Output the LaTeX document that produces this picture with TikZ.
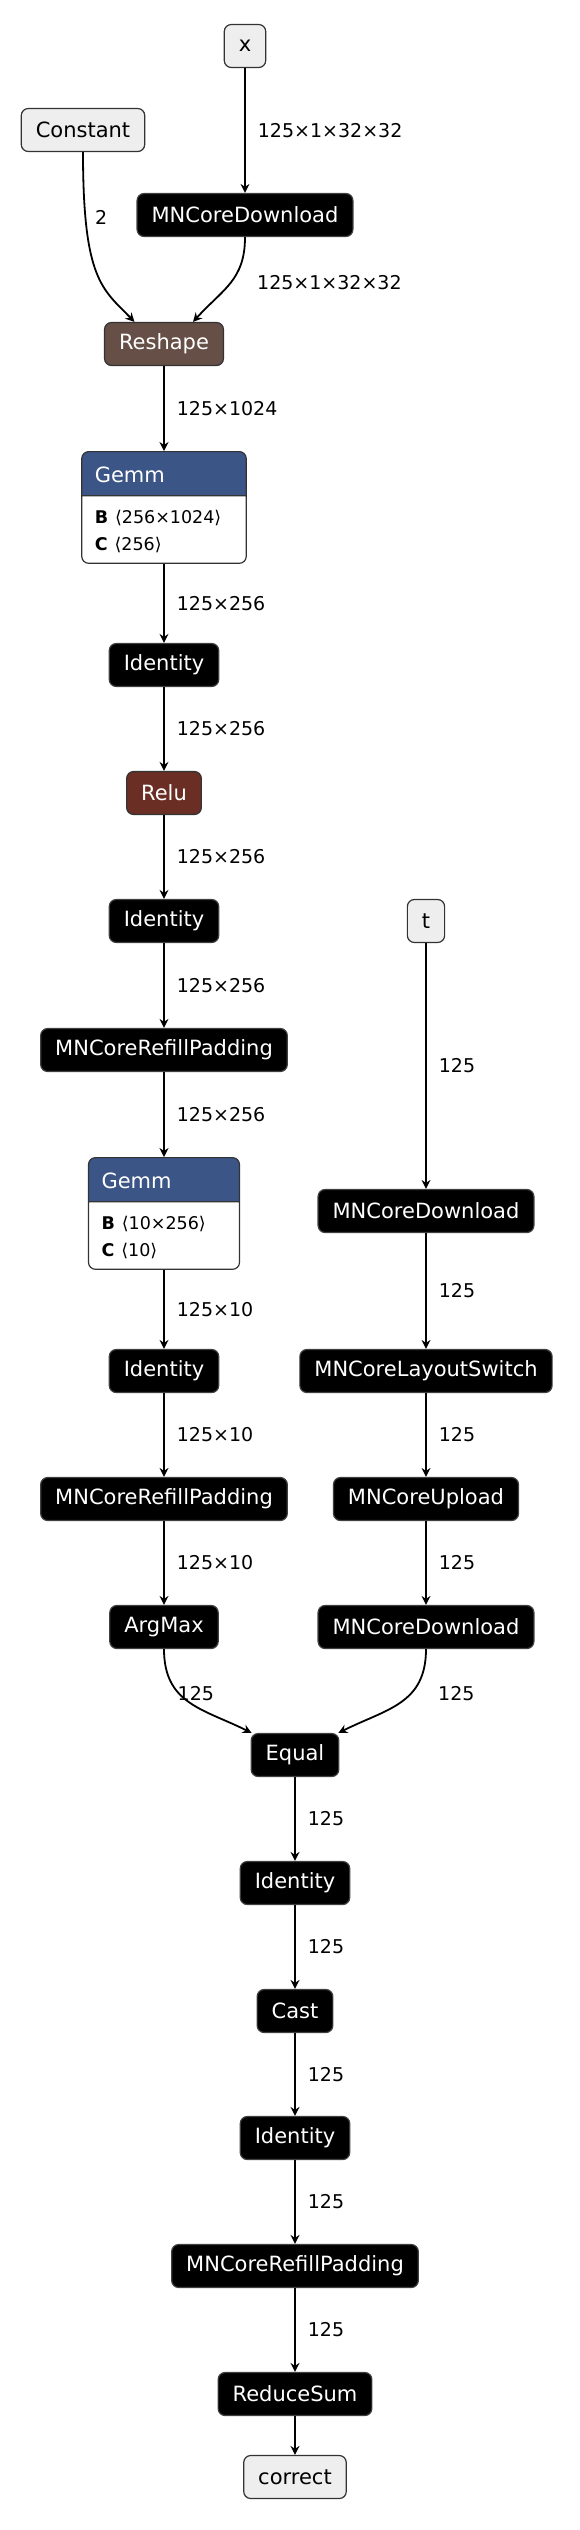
\documentclass[tikz,border=0pt]{standalone}
\usepackage{fontspec}
\setmainfont{DejaVu Sans}
\usetikzlibrary{arrows.meta,shapes.multipart}

\definecolor{layerblue}{RGB}{59,85,135}
\definecolor{actred}{RGB}{107,46,37}
\definecolor{shapebrown}{RGB}{101,79,71}
\definecolor{iogray}{RGB}{238,238,238}
\definecolor{bordergray}{RGB}{51,51,51}

\newcommand{\nodesize}{\fontsize{21}{25}\selectfont}
\newcommand{\edgesize}{\fontsize{19}{23}\selectfont}
\newcommand{\gemmtitle}{\textcolor{white}{\rule[-13pt]{0pt}{43pt}Gemm}}
\newcommand{\gemmattrs}[2]{\fontsize{17.5}{21}\selectfont\vbox{\offinterlineskip
  \hbox{\rule{0pt}{27pt}\textbf{B}\hspace{7pt}⟨#1⟩}
  \hbox{\rule[-12pt]{0pt}{37pt}\textbf{C}\hspace{7pt}⟨#2⟩}}}

\begin{document}
\begin{tikzpicture}[x=1pt, y=-1pt,
    box/.style={draw=bordergray, rectangle, rounded corners=7pt, minimum height=43pt, inner xsep=14.5pt, inner ysep=0pt, line width=1.2pt, font=\nodesize},
    opbox/.style={box, fill=black, draw=black!75, text=white},
    iobox/.style={box, fill=iogray, text=black},
    gemm/.style={rectangle split, rectangle split parts=2, rectangle split part fill={layerblue,white}, rectangle split part align={left}, draw=bordergray, line width=1.2pt, rounded corners=7pt, inner xsep=13pt, inner ysep=0pt, font=\nodesize, anchor=north},
    arrow/.style={-{Stealth[length=9pt,width=9pt,inset=3pt]}, line width=1.8pt},
    lbl/.style={font=\edgesize, anchor=west, inner sep=0pt, xshift=12pt}
  ]
    \useasboundingbox (0,0) rectangle (580,2530);

    % Nodes
    \node[iobox] (x) at (245,46) {x};
    \node[iobox] (const) at (83,130) {Constant};
    \node[opbox] (dl1) at (245,215) {MNCoreDownload};
    \node[box, fill=shapebrown, text=white] (reshape) at (164,344) {Reshape};
    \node[gemm, minimum width=164.5pt] (gemm1) at (164,451) {\gemmtitle\nodepart{two}\gemmattrs{256×1024}{256}};
    \node[opbox] (id1) at (164,665) {Identity};
    \node[box, fill=actred, text=white] (relu) at (164,793) {Relu};
    \node[opbox] (id2) at (164,921) {Identity};
    \node[opbox] (refill1) at (164,1050) {MNCoreRefillPadding};
    \node[gemm, minimum width=151pt] (gemm2) at (164,1157) {\gemmtitle\nodepart{two}\gemmattrs{10×256}{10}};
    \node[opbox] (id3) at (164,1371) {Identity};
    \node[opbox] (refill2) at (164,1499) {MNCoreRefillPadding};
    \node[opbox] (argmax) at (164,1627) {ArgMax};

    \node[iobox] (t) at (426,921) {t};
    \node[opbox] (dl2) at (426,1211) {MNCoreDownload};
    \node[opbox] (layout) at (426,1371) {MNCoreLayoutSwitch};
    \node[opbox] (upload) at (426,1499) {MNCoreUpload};
    \node[opbox] (dl3) at (426,1627) {MNCoreDownload};

    \node[opbox] (equal) at (295,1755) {Equal};
    \node[opbox] (id4) at (295,1883) {Identity};
    \node[opbox] (cast) at (295,2011) {Cast};
    \node[opbox] (id5) at (295,2138) {Identity};
    \node[opbox] (refill3) at (295,2266) {MNCoreRefillPadding};
    \node[opbox] (rsum) at (295,2394) {ReduceSum};
    \node[iobox] (correct) at (295,2477) {correct};

    % Arrows
    \draw[arrow] (x) -- node[lbl] {125×1×32×32} (dl1);
    \draw[arrow] (const.south) .. controls +(0,128) and +(-32,-33) .. ([xshift=-29.5pt]reshape.north);
    \path (const.south) ++(0,65) node[lbl] {2};
    \draw[arrow] (dl1.south) .. controls +(0,43) and +(30,-33) .. ([xshift=29pt]reshape.north);
    \path (dl1.south) ++(0,45) node[lbl] {125×1×32×32};
    \draw[arrow] (reshape) -- node[lbl] {125×1024} (gemm1.north);
    \draw[arrow] (gemm1.south) -- node[lbl] {125×256} (id1);
    \draw[arrow] (id1) -- node[lbl] {125×256} (relu);
    \draw[arrow] (relu) -- node[lbl] {125×256} (id2);
    \draw[arrow] (id2) -- node[lbl] {125×256} (refill1);
    \draw[arrow] (refill1) -- node[lbl] {125×256} (gemm2.north);
    \draw[arrow] (gemm2.south) -- node[lbl] {125×10} (id3);
    \draw[arrow] (id3) -- node[lbl] {125×10} (refill2);
    \draw[arrow] (refill2) -- node[lbl] {125×10} (argmax);

    \draw[arrow] (t) -- node[lbl] {125} (dl2);
    \draw[arrow] (dl2) -- node[lbl] {125} (layout);
    \draw[arrow] (layout) -- node[lbl] {125} (upload);
    \draw[arrow] (upload) -- node[lbl] {125} (dl3);

    \draw[arrow] (argmax.south) .. controls +(0,55) and +(-48,-24) .. ([xshift=1pt]equal.north west);
    \path (argmax.south) ++(1.5,44) node[lbl] {125};
    \draw[arrow] (dl3.south) .. controls +(0,55) and +(48,-24) .. ([xshift=-1pt]equal.north east);
    \path (dl3.south) ++(0,44) node[lbl] {125};

    \draw[arrow] (equal) -- node[lbl] {125} (id4);
    \draw[arrow] (id4) -- node[lbl] {125} (cast);
    \draw[arrow] (cast) -- node[lbl] {125} (id5);
    \draw[arrow] (id5) -- node[lbl] {125} (refill3);
    \draw[arrow] (refill3) -- node[lbl] {125} (rsum);
    \draw[arrow] (rsum) -- (correct);
\end{tikzpicture}
\end{document}
